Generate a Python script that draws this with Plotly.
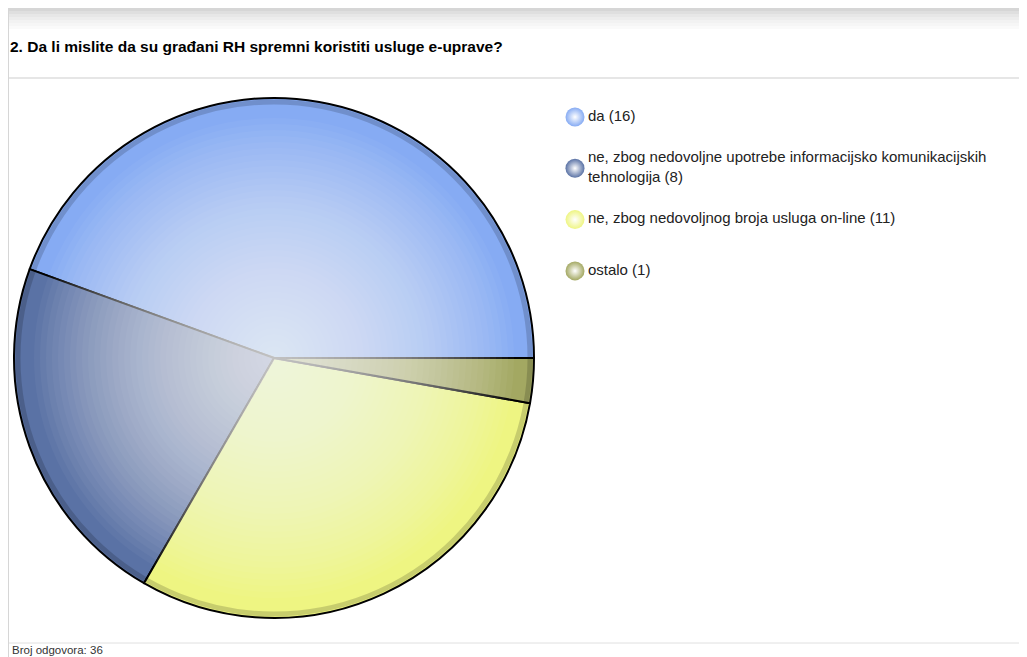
import plotly.graph_objects as go

# dati della domanda
title_text = "2. Da li mislite da su građani RH spremni koristiti usluge e-uprave?"
labels = ["da", "ne, zbog nedovoljne upotrebe informacijsko komunikacijskih tehnologija",
          "ne, zbog nedovoljnog broja usluga on-line", "ostalo"]
counts = [16, 8, 11, 1]
legend_labels = ["da (16)",
                 "ne, zbog nedovoljne upotrebe informacijsko komunikacijskih<br>tehnologija (8)",
                 "ne, zbog nedovoljnog broja usluga on-line (11)",
                 "ostalo (1)"]
colors = ["#86abf3", "#5a72a5", "#eef582", "#a3a862"]
total_text = "Broj odgovora: 36"

W, H = 1027, 657
OFF = 8  # margine della pagina html


def px_x(x):
    return (x - OFF) / W


def px_y(y):
    return 1 - (y - OFF) / H


FONT = "Liberation Sans, Arial, sans-serif"

fig = go.Figure()

# torta principale: la prima fetta parte da ore 3 e gira in senso antiorario
first_share = 360 * counts[0] / sum(counts)
fig.add_trace(go.Pie(
    labels=labels,
    values=counts,
    sort=False,
    direction="counterclockwise",
    rotation=90 - first_share,
    marker=dict(colors=colors, line=dict(color="#000000", width=2)),
    textinfo="none",
    hoverinfo="label+value",
    showlegend=False,
    domain=dict(x=[px_x(14), px_x(534)], y=[px_y(618), px_y(98)]),
))

# legenda fatta a mano, con marcatori sferici
fig.add_trace(go.Scatter(
    x=[0] * len(legend_labels),
    y=list(range(len(legend_labels))),
    mode="markers+text",
    text=legend_labels,
    textposition="middle right",
    textfont=dict(family=FONT, size=15, color="#222222"),
    marker=dict(size=19, color=colors, line=dict(width=0),
                gradient=dict(type="radial", color="#ffffff")),
    cliponaxis=False,
    hoverinfo="skip",
    showlegend=False,
    xaxis="x2", yaxis="y2",
))

shapes = []
# banda grigia in alto
band = ["#d6d6d6", "#dfdfdf", "#e7e7e7", "#ededed", "#f2f2f2", "#f6f6f6", "#fafafa"]
for i, c in enumerate(band):
    shapes.append(dict(type="rect", xref="paper", yref="paper",
                       x0=0, x1=1, y0=px_y(8 + 3 * (i + 1)), y1=px_y(8 + 3 * i),
                       fillcolor=c, line=dict(width=0), layer="below"))
# linee separatrici
shapes.append(dict(type="line", xref="paper", yref="paper", x0=0, x1=1,
                   y0=px_y(78), y1=px_y(78), line=dict(color="#e6e6e6", width=2), layer="below"))
shapes.append(dict(type="line", xref="paper", yref="paper", x0=0, x1=1,
                   y0=px_y(643), y1=px_y(643), line=dict(color="#e0e0e0", width=1), layer="below"))
shapes.append(dict(type="line", xref="paper", yref="paper", x0=0.0005, x1=0.0005,
                   y0=0, y1=px_y(8), line=dict(color="#d6d6d6", width=1), layer="below"))

# bagliore radiale sopra la torta
cx, cy = 274, 358
n_glow = 40
for k in range(n_glow):
    r = 240 - k * 6
    shapes.append(dict(type="circle", xref="paper", yref="paper",
                       x0=px_x(cx - r), x1=px_x(cx + r), y0=px_y(cy + r), y1=px_y(cy - r),
                       fillcolor="rgba(255,255,255,0.04)", line=dict(width=0), layer="above"))
# ombra sul bordo
shapes.append(dict(type="circle", xref="paper", yref="paper",
                   x0=px_x(cx - 256), x1=px_x(cx + 256), y0=px_y(cy + 256), y1=px_y(cy - 256),
                   fillcolor="rgba(0,0,0,0)", line=dict(color="rgba(0,0,0,0.16)", width=5),
                   layer="above"))

fig.update_layout(
    width=W, height=H,
    margin=dict(l=0, r=0, t=0, b=0),
    paper_bgcolor="white",
    plot_bgcolor="rgba(0,0,0,0)",
    shapes=shapes,
    xaxis=dict(visible=False),
    yaxis=dict(visible=False),
    xaxis2=dict(domain=[px_x(575), 1], range=[0, 1], visible=False, fixedrange=True),
    yaxis2=dict(domain=[px_y(117 + 3.5 * 51.3), px_y(117 - 0.5 * 51.3)],
                range=[3.5, -0.5], visible=False, fixedrange=True, anchor="x2"),
    annotations=[
        dict(text="<b>" + title_text + "</b>", xref="paper", yref="paper",
             x=px_x(8), y=px_y(47), xanchor="left", yanchor="middle", showarrow=False,
             font=dict(family=FONT, size=15.5, color="#000000")),
        dict(text=total_text, xref="paper", yref="paper",
             x=px_x(10), y=px_y(650), xanchor="left", yanchor="middle", showarrow=False,
             font=dict(family=FONT, size=11.5, color="#333333")),
    ],
)

fig.write_html("out.html")
